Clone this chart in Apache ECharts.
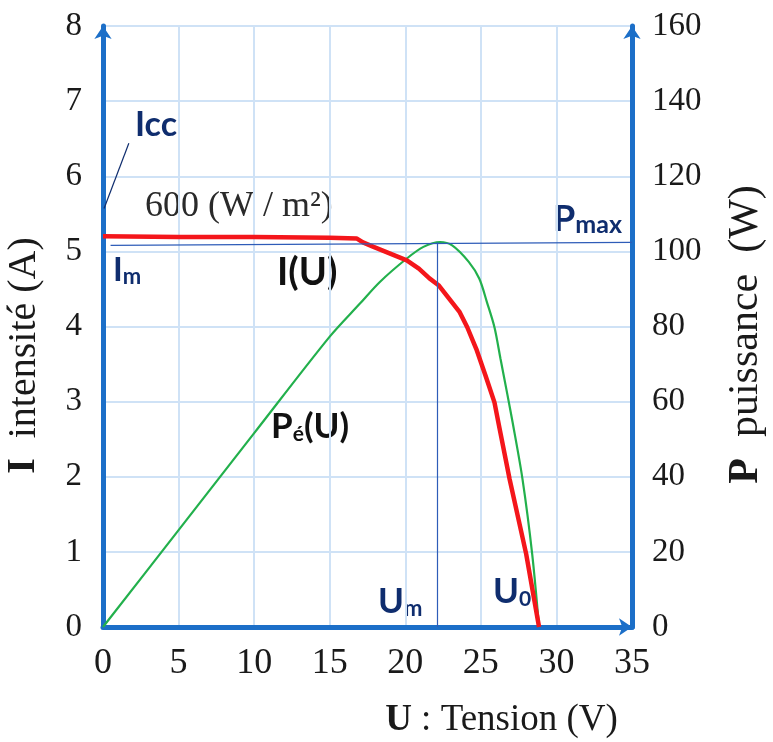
<!DOCTYPE html>
<html>
<head>
<meta charset="utf-8">
<script src="https://cdn.jsdelivr.net/npm/echarts@6/dist/echarts.min.js"></script>
<style>
html,body{margin:0;padding:0;background:#fff;}
#chart{width:773px;height:742px;}
</style>
</head>
<body>
<div id="chart"></div>
<script>
// ---- data ----
var xTicks = [0, 5, 10, 15, 20, 25, 30, 35];
var leftTicks = [0, 1, 2, 3, 4, 5, 6, 7, 8];
var rightTicks = [0, 20, 40, 60, 80, 100, 120, 140, 160];

// I(U) curve: voltage (V) and current (A)
var curU = [0, 5, 10, 15, 16.8, 17.2, 17.9, 19.0, 20.1, 20.9, 21.6, 22.2, 22.9, 23.6, 24.1, 24.7, 25.3, 25.9, 26.2, 26.9, 28.0, 28.85];
var curI = [5.2, 5.19, 5.19, 5.18, 5.17, 5.12, 5.06, 4.97, 4.88, 4.77, 4.64, 4.55, 4.37, 4.19, 3.99, 3.70, 3.35, 2.99, 2.68, 1.97, 0.97, 0];

// Pé(U) curve: voltage (V) and power (W)
var powU = [0, 5, 10, 15, 17.0, 18.3, 20.1, 21.2, 22.3, 23.1, 24.2, 24.9, 25.4, 25.9, 26.3, 26.75, 27.1, 27.75, 28.4, 28.85];
var powP = [0, 25.8, 51.6, 77.3, 86.1, 91.8, 98.1, 101.2, 102.5, 101.6, 97.2, 92.7, 86.5, 79.8, 71.4, 62.0, 54.5, 39.5, 19.3, 0];

// annotation values
var Um = 22.1;          // V
var Im = 5.08;          // A (left end of the Im / Pmax line)
var ImRight = 5.12;     // A (right end at Pmax level)
var IccPointer = [[1.71, 6.44], [0.07, 5.57]];

var navy = '#0f2d6e';
var axisBlue = '#1c6fc8';
var gridBlue = '#cfe2f6';
var serif = '"Liberation Serif","Times New Roman",serif';
var sans = 'Lato, "Open Sans", sans-serif';

var chart = echarts.init(document.getElementById('chart'), null, {renderer: 'canvas'});

function zip(a, b) { return a.map(function (v, i) { return [v, b[i]]; }); }

var axisLineCommon = {
  show: true, onZero: false,
  symbol: ['none', 'arrow'], symbolSize: [13, 13],
  lineStyle: {color: axisBlue, width: 5}
};

var option = {
  animation: false,
  backgroundColor: '#ffffff',
  grid: {left: 103, right: 141, top: 26, bottom: 115, containLabel: false, outerBoundsMode: 'none'},
  xAxis: {
    type: 'value', min: xTicks[0], max: xTicks[xTicks.length - 1], interval: 5,
    axisLine: axisLineCommon,
    axisTick: {show: false},
    splitLine: {show: true, lineStyle: {color: gridBlue, width: 2}},
    axisLabel: {fontFamily: serif, fontSize: 36, color: '#1a1a1a', margin: 19},
    name: '{b|U} : Tension (V)',
    nameLocation: 'middle', nameGap: 75,
    nameTextStyle: {
      fontFamily: serif, fontSize: 37, color: '#1a1a1a', padding: [0, 0, 0, 268],
      rich: {b: {fontFamily: serif, fontSize: 37, fontWeight: 'bold', color: '#1a1a1a'}}
    }
  },
  yAxis: [
    {
      type: 'value', min: leftTicks[0], max: leftTicks[leftTicks.length - 1], interval: 1,
      position: 'left',
      axisLine: axisLineCommon,
      axisTick: {show: false},
      splitLine: {show: true, lineStyle: {color: gridBlue, width: 2}},
      axisLabel: {fontFamily: serif, fontSize: 33, color: '#1a1a1a', margin: 21},
      name: '{b|I}  intensité (A)',
      nameLocation: 'middle', nameRotate: 90, nameGap: 59,
      nameTextStyle: {
        fontFamily: serif, fontSize: 40, color: '#1a1a1a', padding: [0, 58, 0, 0],
        rich: {b: {fontFamily: serif, fontSize: 40, fontWeight: 'bold', color: '#1a1a1a'}}
      }
    },
    {
      type: 'value', min: rightTicks[0], max: rightTicks[rightTicks.length - 1], interval: 20,
      position: 'right',
      axisLine: axisLineCommon,
      axisTick: {show: false},
      splitLine: {show: false},
      axisLabel: {fontFamily: serif, fontSize: 33, color: '#1a1a1a', margin: 20},
      name: '{b|P}  puissance  (W)',
      nameLocation: 'middle', nameRotate: 90, nameGap: 93,
      nameTextStyle: {
        fontFamily: serif, fontSize: 42, color: '#1a1a1a', padding: [0, 16, 0, 0],
        rich: {b: {fontFamily: serif, fontSize: 42, fontWeight: 'bold', color: '#1a1a1a'}}
      }
    }
  ],
  series: [
    {
      name: 'Pé(U)', type: 'line', yAxisIndex: 1, data: zip(powU, powP),
      showSymbol: false, smooth: 0.3,
      lineStyle: {color: '#22b04c', width: 2.2}, z: 3
    },
    {
      name: 'I(U)', type: 'line', yAxisIndex: 0, data: zip(curU, curI),
      showSymbol: false, smooth: false,
      lineStyle: {color: '#f4161b', width: 4.5}, z: 4,
      markLine: {
        silent: true, symbol: ['none', 'none'], label: {show: false},
        lineStyle: {color: '#2e5cb8', width: 1.2, type: 'solid'},
        data: [
          [{coord: [0.5, Im]}, {coord: [xTicks[xTicks.length - 1], ImRight]}],
          [{coord: [Um, 0]}, {coord: [Um, ImRight]}],
          [{coord: IccPointer[0], lineStyle: {color: navy, width: 1.2}}, {coord: IccPointer[1]}]
        ]
      }
    }
  ],
  graphic: [
    {type: 'text', left: 135, top: 108, style: {text: 'Icc', font: 'bold 34px ' + sans, fill: navy}},
    {type: 'text', left: 145, top: 189, style: {text: '600 (W / m²)', font: '36px ' + serif, fill: '#2a2a2a'}},
    {type: 'text', left: 113, top: 254, style: {
      text: '{a|I}{s|m}',
      rich: {a: {font: 'bold 33px ' + sans, fill: navy, lineHeight: 34},
             s: {font: 'bold 22px ' + sans, fill: navy, lineHeight: 18, verticalAlign: 'bottom'}}}},
    {type: 'text', left: 277, top: 254, style: {text: 'I(U)', font: 'bold 38px ' + sans, fill: '#111'}},
    {type: 'text', left: 271, top: 409, style: {
      text: '{a|P}{s|é}{a|(U)}',
      rich: {a: {font: 'bold 35px ' + sans, fill: '#111', lineHeight: 36},
             s: {font: 'bold 21px ' + sans, fill: '#111', lineHeight: 14, verticalAlign: 'bottom'}}}},
    {type: 'text', left: 553, top: 201, style: {
      text: '{a|P}{s|max}',
      rich: {a: {font: 'bold 36px ' + sans, fill: navy, lineHeight: 36},
             s: {font: 'bold 25px ' + sans, fill: navy, lineHeight: 14, verticalAlign: 'bottom'}}}},
    {type: 'text', left: 378, top: 584, style: {
      text: '{a|U}{s|m}',
      rich: {a: {font: 'bold 35px ' + sans, fill: navy, lineHeight: 36},
             s: {font: 'bold 22px ' + sans, fill: navy, lineHeight: 18, verticalAlign: 'bottom'}}}},
    {type: 'text', left: 493, top: 574, style: {
      text: '{a|U}{s|0}',
      rich: {a: {font: 'bold 35px ' + sans, fill: navy, lineHeight: 36},
             s: {font: 'bold 21px ' + sans, fill: navy, lineHeight: 14, verticalAlign: 'bottom'}}}}
  ]
};

chart.setOption(option);
</script>
</body>
</html>
